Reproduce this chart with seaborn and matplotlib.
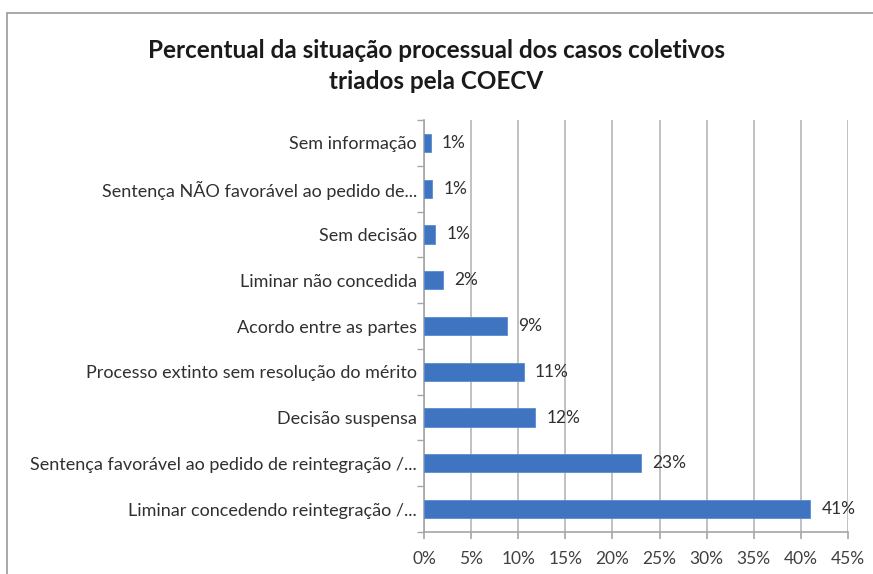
import matplotlib
matplotlib.use("Agg")
import matplotlib.pyplot as plt
import matplotlib.patches as mpatches
from matplotlib.ticker import MultipleLocator, FuncFormatter
import seaborn as sns
import pandas as pd

# data (top to bottom)
categories = [
    "Sem informação",
    "Sentença NÃO favorável ao pedido de...",
    "Sem decisão",
    "Liminar não concedida",
    "Acordo entre as partes",
    "Processo extinto sem resolução do mérito",
    "Decisão suspensa",
    "Sentença favorável ao pedido de reintegração /...",
    "Liminar concedendo reintegração /...",
]
values = [0.7, 0.9, 1.2, 2.0, 8.8, 10.6, 11.8, 23.0, 41.0]
labels = ["1%", "1%", "1%", "2%", "9%", "11%", "12%", "23%", "41%"]

df = pd.DataFrame({"situacao": categories, "pct": values})

sns.set_style("white")
plt.rcParams["font.family"] = ["Lato", "DejaVu Sans"]

fig = plt.figure(figsize=(8.73, 5.74), dpi=100)
ax = fig.add_axes([0.4857, 0.0732, 0.9714 - 0.4857, 0.7909 - 0.0732])

sns.barplot(data=df, y="situacao", x="pct", orient="h", color="#3f74c0",
            saturation=1, width=0.4, edgecolor="#5a8bcf", linewidth=0.6,
            ax=ax, zorder=3)

ax.set_xlim(0, 45)
ax.xaxis.set_major_locator(MultipleLocator(5))
ax.xaxis.set_major_formatter(FuncFormatter(lambda v, p: f"{v:.0f}%"))
ax.grid(axis="x", color="#bcbcbc", linewidth=1.3, zorder=0)
ax.set_xlabel("")
ax.set_ylabel("")

for s in ["top", "right"]:
    ax.spines[s].set_visible(False)
for s in ["left", "bottom"]:
    ax.spines[s].set_color("#a6a6a6")
    ax.spines[s].set_linewidth(1.2)

ax.tick_params(axis="x", labelsize=12.5, colors="#a6a6a6", labelcolor="#404040",
               length=5, width=1.2, direction="out", pad=9, bottom=True)
ax.tick_params(axis="y", labelsize=13, labelcolor="#303030", length=0, pad=5)
# Excel-style minor ticks between categories on the y axis
ax.set_yticks([i + 0.5 for i in range(-1, len(categories))], minor=True)
ax.tick_params(axis="y", which="minor", length=5, width=1.0, colors="#a6a6a6", left=True)

for i, (v, lab) in enumerate(zip(values, labels)):
    ax.annotate(lab, (v, i), xytext=(8, 0), textcoords="offset points",
                va="center", ha="left", fontsize=12.5, color="#303030")

fig.text(0.5, 1 - 50 / 574, "Percentual da situação processual dos casos coletivos",
         ha="center", va="center", fontsize=17.5, fontweight="bold", color="#1a1a1a")
fig.text(0.5, 1 - 82 / 574, "triados pela COECV",
         ha="center", va="center", fontsize=17.5, fontweight="bold", color="#1a1a1a")

# chart frame
fig.patches.append(mpatches.Rectangle((7 / 873, -0.01), 1.0, 1 - 13 / 574 + 0.01,
                                      transform=fig.transFigure, fill=False,
                                      edgecolor="#9a9a9a", linewidth=1.2))

fig.savefig("out.png", dpi=100)
